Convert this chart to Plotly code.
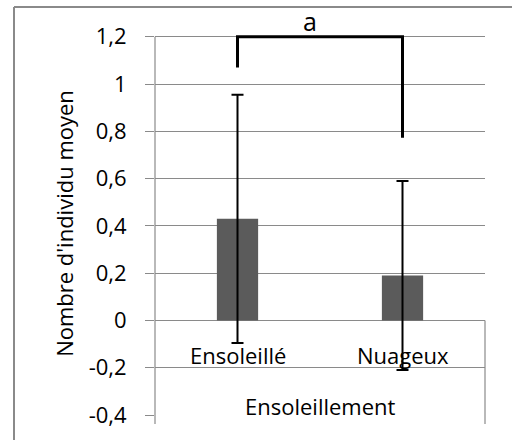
import plotly.graph_objects as go

categories = ["Ensoleillé", "Nuageux"]
means = [0.43, 0.19]
errors = [0.525, 0.40]
bracket_y = [1.07, 1.2, 1.2, 0.773]
bracket_label = "a"
y_title = "Nombre d'individu moyen"
x_title = "Ensoleillement"
y_ticks = [-0.4, -0.2, 0, 0.2, 0.4, 0.6, 0.8, 1, 1.2]
y_ticktext = ["-0,4", "-0,2", "0", "0,2", "0,4", "0,6", "0,8", "1", "1,2"]

FONT = "Open Sans"
GRID = "#8a8a8a"

fig = go.Figure()
fig.add_trace(go.Bar(
    x=categories, y=means, width=0.25,
    marker=dict(color="#5b5b5b", line=dict(width=0)),
    error_y=dict(type="data", array=errors, visible=True,
                 color="black", thickness=2, width=6),
))
fig.add_trace(go.Scatter(
    x=[categories[0], categories[0], categories[1], categories[1]],
    y=bracket_y, mode="lines",
    line=dict(color="black", width=3), hoverinfo="skip",
))

# plot area pixel geometry
L, R, T, B = 155, 27, 32, 26
W, H = 512, 441
pw, ph = W - L - R, H - T - B
ymin, ymax = -0.4, 1.22

def py(v):
    return (v - ymin) / (ymax - ymin)

ext = -9 / ph
fx0 = (14 - L) / pw
fy1 = (H - B - 7) / ph
shapes = [
    # outer frame: left and top edges visible
    dict(type="line", xref="paper", yref="paper", x0=fx0, x1=fx0,
         y0=-(B - 1) / ph, y1=fy1, line=dict(color="#8a8a8a", width=2)),
    dict(type="line", xref="paper", yref="paper", x0=fx0, x1=(W - L) / pw,
         y0=fy1, y1=fy1, line=dict(color="#8a8a8a", width=2)),
    # y axis line
    dict(type="line", xref="paper", yref="paper", x0=0, x1=0,
         y0=ext, y1=py(1.2), line=dict(color=GRID, width=1.2)),
    # right edge tick of category axis
    dict(type="line", xref="paper", yref="paper", x0=1, x1=1,
         y0=ext, y1=py(0), line=dict(color=GRID, width=1.2)),
]

annotations = []
for c in categories:
    annotations.append(dict(x=c, y=0, xref="x", yref="y", text=c,
                            showarrow=False, yanchor="top", yshift=-18,
                            font=dict(family=FONT, size=22, color="black")))
annotations.append(dict(x=0.5, y=0, xref="paper", yref="y", text=x_title,
                        showarrow=False, yanchor="top", yshift=-69,
                        font=dict(family=FONT, size=22, color="black")))
annotations.append(dict(x=0.5, y=1.2, xref="x", yref="y", text=bracket_label,
                        showarrow=False, yanchor="bottom", xshift=-10, yshift=-3,
                        font=dict(family=FONT, size=25, color="black")))

fig.update_layout(
    width=W, height=H,
    margin=dict(l=L, r=R, t=T, b=B),
    paper_bgcolor="white", plot_bgcolor="white",
    showlegend=False,
    shapes=shapes, annotations=annotations,
    font=dict(family=FONT, size=22, color="black"),
    xaxis=dict(type="category", range=[-0.5, 1.5], showticklabels=False,
               showgrid=False, zeroline=False, showline=False, ticks=""),
    yaxis=dict(range=[ymin, ymax], tickvals=y_ticks, ticktext=y_ticktext,
               showgrid=True, gridcolor=GRID, gridwidth=1.2,
               zeroline=False, showline=False,
               ticks="outside", ticklen=9, tickcolor=GRID, tickwidth=1.2,
               ticklabelstandoff=14,
               tickfont=dict(family=FONT, size=22, color="black"),
               title=dict(text=y_title, standoff=8,
                          font=dict(family=FONT, size=22, color="black"))),
)

fig.write_html(
    "out.html",
    config={"displayModeBar": False},
    post_script="document.documentElement.style.overflow='hidden';"
                "document.body.style.overflow='hidden';"
                "document.body.style.margin='0';",
)
